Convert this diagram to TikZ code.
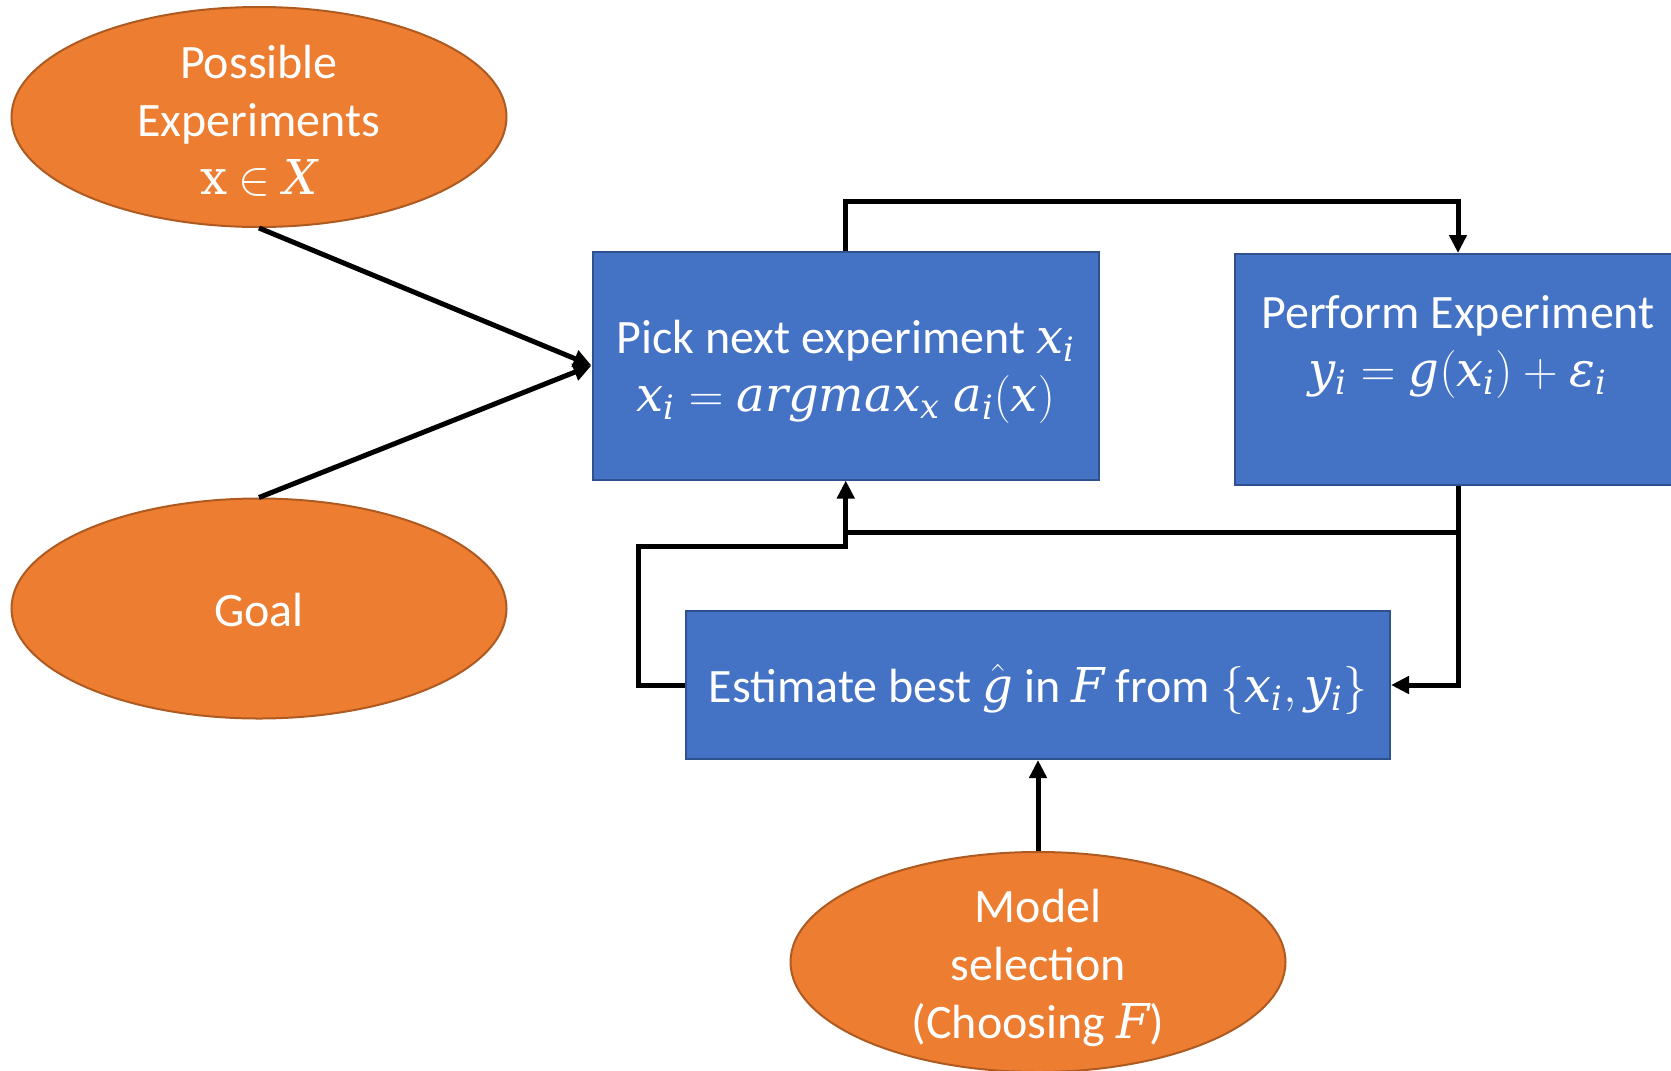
\documentclass[tikz,border=0pt]{standalone}
\usepackage{fix-cm}
\usepackage{mathspec}
\setmainfont{Carlito}
\setmathsfont(Latin,Greek){DejaVu Serif}
\newfontfamily\serifup{DejaVu Serif}
\usetikzlibrary{arrows.meta,shapes.geometric}

\definecolor{orangefill}{HTML}{ED7D31}
\definecolor{orangeedge}{HTML}{AE5A21}
\definecolor{bluefill}{HTML}{4472C4}
\definecolor{blueedge}{HTML}{2F528F}

\begin{document}
\begin{tikzpicture}[x=0.5pt,y=-0.5pt,
  oval/.style={ellipse, draw=orangeedge, fill=orangefill, line width=1pt,
    minimum width=247.5pt, minimum height=110pt, inner sep=0pt},
  stepbox/.style={rectangle, draw=blueedge, fill=bluefill, line width=1pt, inner sep=0pt},
  lbl/.style={text=white, align=center, inner sep=0pt, font=\fontsize{24}{29}\selectfont},
  link/.style={draw=black, line width=2.5pt},
  arrowed/.style={-{Triangle[length=9pt,width=8.5pt]}}
]
\useasboundingbox (0,0) rectangle (1671,1071);
\clip (0,0) rectangle (1671,1071);
\fill[white] (0,0) rectangle (1671,1071);

% inputs
\node[oval] (pe) at (259,117) {};
\node[lbl] (pe-text) at (259,121) {Possible\\Experiments\\{\serifup x} $\in X$};
\node[oval] (goal) at (259,608.5) {};
\node[lbl] (goal-text) at (259,610) {Goal};
\node[oval] (model) at (1038,962) {};
\node[lbl] (model-text) at (1038,968) {Model\\selection\\(Choosing $F$)};

% process steps
\node[stepbox, minimum width=253.25pt, minimum height=114pt] (pick) at (845.75,365.5) {};
\node[lbl] (pick-text) at (845.75,372) {Pick next experiment $x_i$\\$x_i = argmax_x\; a_i(x)$};
\node[stepbox, minimum width=223pt, minimum height=115.5pt] (perform) at (1458,369.5) {};
\node[lbl] (perform-text) at (1458,347) {Perform Experiment\\$y_i = g(x_i) + \epsilon_i$};
\node[stepbox, minimum width=352pt, minimum height=74pt] (estimate) at (1038,685) {};
\node[lbl] (estimate-text) at (1038,689) {Estimate best $\hat{g}$ in $F$ from $\{x_i, y_i\}$};

% connectors
\draw[link, arrowed] (pe.south) -- (pick.west);
\draw[link, arrowed] (goal.north) -- (pick.west);
\draw[link, arrowed] (pick.north) -- ++(0,-49) -| (perform.north);
\draw[link, arrowed] (perform.south) |- (estimate.east);
\coordinate (split) at (1458,532);
\coordinate (merge) at (845.75,546);
\draw[link, arrowed] (split) -| (pick.south);
\draw[link] (estimate.west) -- ++(-47,0) |- (merge) -- (merge |- split);
\draw[link, arrowed] (model.north) -- (estimate.south);
\end{tikzpicture}
\end{document}
